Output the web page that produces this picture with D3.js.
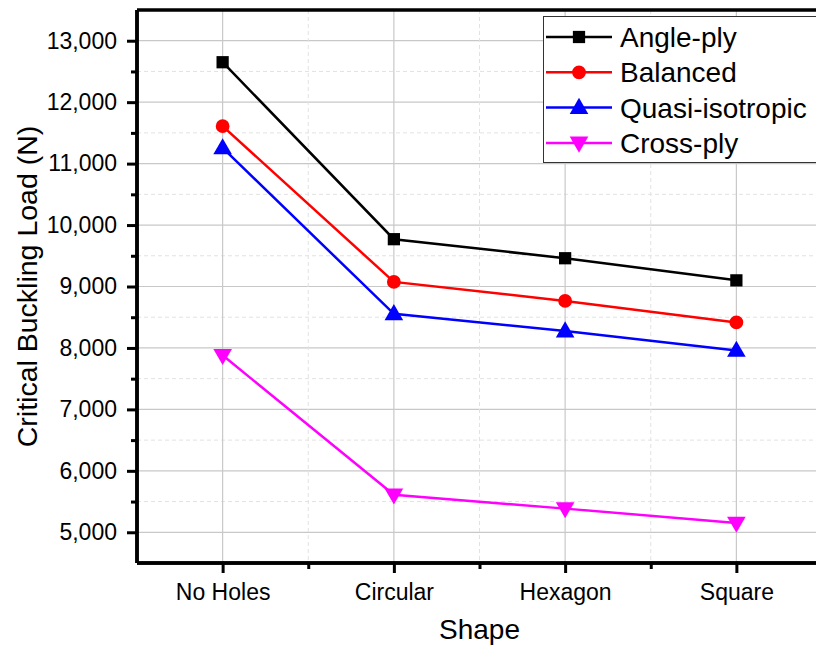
<!DOCTYPE html>
<html>
<head>
<meta charset="utf-8">
<script src="https://cdn.jsdelivr.net/npm/d3@7"></script>
<style>
  html, body { margin: 0; padding: 0; background: #fff; }
  svg { display: block; font-family: Arial, "Liberation Sans", sans-serif; }
</style>
</head>
<body>
<svg id="chart" width="816" height="650"></svg>
<script>
// Hole shapes along the x axis
const shapes = ["No Holes", "Circular", "Hexagon", "Square"];

// Critical buckling load (N) for each laminate lay-up
const anglePly = [12650, 9770, 9460, 9100];
const balanced = [11610, 9075, 8765, 8415];
const quasiIsotropic = [11255, 8555, 8275, 7960];
const crossPly = [7880, 5610, 5385, 5150];

const yTicks = [5000, 6000, 7000, 8000, 9000, 10000, 11000, 12000, 13000];

const series = [
  { name: "Angle-ply", values: anglePly, color: "#000000", symbol: "square" },
  { name: "Balanced", values: balanced, color: "#ff0000", symbol: "circle" },
  { name: "Quasi-isotropic", values: quasiIsotropic, color: "#0000ff", symbol: "triangleUp" },
  { name: "Cross-ply", values: crossPly, color: "#ff00ff", symbol: "triangleDown" }
];

const svg = d3.select("#chart");
const plotLeft = 137, plotRight = 822, plotTop = 10, plotBottom = 563;

const x = d3.scaleLinear().domain([0.5, 4.5]).range([plotLeft, plotRight]);
const y = d3.scaleLinear().domain([4500, 13500]).range([plotBottom, plotTop]);

const xPos = i => x(i + 1);

// Grid: solid major lines, dashed minor lines
const grid = svg.append("g");
const minorY = d3.range(5500, 13500, 1000);
grid.selectAll(".gy-minor").data(minorY).join("line")
  .attr("x1", plotLeft).attr("x2", plotRight)
  .attr("y1", d => y(d)).attr("y2", d => y(d))
  .attr("stroke", "#e2e2e2").attr("stroke-width", 1).attr("stroke-dasharray", "4,3");
grid.selectAll(".gy").data(yTicks).join("line")
  .attr("x1", plotLeft).attr("x2", plotRight)
  .attr("y1", d => y(d)).attr("y2", d => y(d))
  .attr("stroke", "#c8c8c8").attr("stroke-width", 1.2);
const minorX = [1.5, 2.5, 3.5];
grid.selectAll(".gx-minor").data(minorX).join("line")
  .attr("x1", d => x(d)).attr("x2", d => x(d))
  .attr("y1", plotTop).attr("y2", plotBottom)
  .attr("stroke", "#e2e2e2").attr("stroke-width", 1).attr("stroke-dasharray", "4,3");
grid.selectAll(".gx").data(shapes).join("line")
  .attr("x1", (d, i) => xPos(i)).attr("x2", (d, i) => xPos(i))
  .attr("y1", plotTop).attr("y2", plotBottom)
  .attr("stroke", "#c8c8c8").attr("stroke-width", 1.2);

// Series lines and markers
const symbolPath = (s, size) => {
  if (s === "square") return d3.symbol(d3.symbolSquare, size)();
  if (s === "circle") return d3.symbol(d3.symbolCircle, size)();
  return d3.symbol(d3.symbolTriangle, size)();
};
const symbolRotate = s => s === "triangleDown" ? 180 : 0;
const symbolShift = s => s === "triangleUp" ? 1 : s === "triangleDown" ? -1 : 0;
const line = d3.line().x((d, i) => xPos(i)).y(d => y(d));

series.forEach(s => {
  const g = svg.append("g");
  g.append("path").attr("d", line(s.values))
    .attr("fill", "none").attr("stroke", s.color).attr("stroke-width", 2.5);
  g.selectAll("path.m").data(s.values).join("path")
    .attr("class", "m")
    .attr("d", symbolPath(s.symbol, 150))
    .attr("transform", (d, i) => `translate(${xPos(i)},${y(d) + symbolShift(s.symbol)}) rotate(${symbolRotate(s.symbol)})`)
    .attr("fill", s.color);
});

// Axes
const axisColor = "#000";
const yAxis = svg.append("g").attr("transform", `translate(${plotLeft},0)`)
  .call(d3.axisLeft(y).tickValues(yTicks).tickSize(10).tickPadding(10).tickFormat(d3.format(",")));
const yMinor = svg.append("g").attr("transform", `translate(${plotLeft},0)`)
  .call(d3.axisLeft(y).tickValues(minorY).tickSize(6).tickFormat(""));
const xAxis = svg.append("g").attr("transform", `translate(0,${plotBottom})`)
  .call(d3.axisBottom(x).tickValues([1, 2, 3, 4]).tickSize(10).tickPadding(11).tickFormat(d => shapes[d - 1]));
const xMinor = svg.append("g").attr("transform", `translate(0,${plotBottom})`)
  .call(d3.axisBottom(x).tickValues(minorX).tickSize(6).tickFormat(""));

[yAxis, yMinor, xAxis, xMinor].forEach(a => {
  a.select(".domain").attr("stroke", axisColor).attr("stroke-width", 3.5);
  a.selectAll(".tick line").attr("stroke", axisColor).attr("stroke-width", 3);
  a.selectAll(".tick text").attr("fill", "#000").style("font-size", "23px")
    .style("font-family", "Arial, 'Liberation Sans', sans-serif");
});
yAxis.select(".domain").attr("d", `M0,${plotBottom}V${plotTop}`);
yMinor.select(".domain").attr("d", `M0,${plotBottom}V${plotTop}`);
xAxis.select(".domain").attr("d", `M${plotLeft},0H${plotRight}`);
xMinor.select(".domain").attr("d", `M${plotLeft},0H${plotRight}`);

// Top frame line
svg.append("line").attr("x1", plotLeft).attr("x2", plotRight).attr("y1", plotTop).attr("y2", plotTop)
  .attr("stroke", axisColor).attr("stroke-width", 3.5);

// Axis titles
svg.append("text").attr("x", x(2.5)).attr("y", 639)
  .attr("text-anchor", "middle").style("font-size", "28px").text("Shape");
svg.append("text").attr("transform", `translate(37,${(plotTop + plotBottom) / 2}) rotate(-90)`)
  .attr("text-anchor", "middle").style("font-size", "28.5px").text("Critical Buckling Load (N)");

// Legend
const legend = svg.append("g");
legend.append("rect").attr("x", 543.5).attr("y", 16.5).attr("width", 285).attr("height", 146)
  .attr("fill", "#fff").attr("stroke", "#333").attr("stroke-width", 1);
series.forEach((s, i) => {
  const cy = 37 + i * 35.3;
  legend.append("line").attr("x1", 546).attr("x2", 612).attr("y1", cy).attr("y2", cy)
    .attr("stroke", s.color).attr("stroke-width", 2.5);
  legend.append("path").attr("d", symbolPath(s.symbol, 150))
    .attr("transform", `translate(579,${cy + symbolShift(s.symbol)}) rotate(${symbolRotate(s.symbol)})`)
    .attr("fill", s.color);
  legend.append("text").attr("x", 620).attr("y", cy).attr("dy", "0.36em")
    .style("font-size", "28px").text(s.name);
});
</script>
</body>
</html>
